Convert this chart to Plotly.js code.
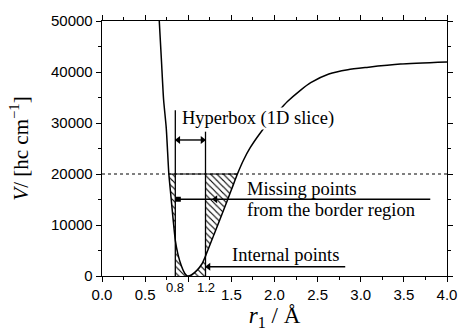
<!DOCTYPE html>
<html>
<head>
<meta charset="utf-8">
<script src="https://cdn.plot.ly/plotly-3.0.1.min.js"></script>
<style>html,body{margin:0;padding:0;background:#fff;}#chart{width:460px;height:331px;}</style>
</head>
<body>
<div id="chart"></div>
<script>
// Potential curve V(r1)
const r1 = [0.664, 0.69, 0.714, 0.745, 0.775, 0.80, 0.825, 0.85, 0.88, 0.92, 0.96, 0.99, 1.04, 1.10, 1.16, 1.20, 1.30, 1.40, 1.50, 1.57, 1.64, 1.72, 1.82, 1.92, 2.03, 2.15, 2.30, 2.42, 2.63, 2.85, 3.07, 3.46, 4.00];
const V  = [50000, 42000, 34600, 29000, 20000, 15500, 11000, 7000, 4300, 2000, 500, 0, 250, 1100, 2400, 3900, 8200, 12500, 16900, 20000, 22700, 25200, 27700, 29900, 32000, 34200, 36400, 37900, 39600, 40450, 40900, 41550, 41950];

// Hyperbox and energy threshold
const boxLo = 0.85, boxHi = 1.2;
const Vmax = 20000;
const boxLineTopLo = 32500, boxLineTopHi = 28300;
const arrowBoxV = 26670;
const missingV = 15050, missingTail = 3.806, missingHead2 = 1.28;
const internalV = 1800, internalTail = 2.82;

const xTickVals = [0, 0.5, 1, 1.5, 2, 2.5, 3, 3.5, 4];
const xTickText = ['0.0', '0.5', '', '1.5', '2.0', '2.5', '3.0', '3.5', '4.0'];
const yTickVals = [0, 10000, 20000, 30000, 40000, 50000];
const yTickText = ['0', '10000', '20000', '30000', '40000', '50000'];

const iMin = V.indexOf(Math.min(...V));
function interpR(v, a, b) {
  for (let i = a; i < b; i++) {
    const v0 = V[i], v1 = V[i+1];
    if ((v - v0) * (v - v1) <= 0 && v0 !== v1) {
      return r1[i] + (v - v0) / (v1 - v0) * (r1[i+1] - r1[i]);
    }
  }
  return null;
}
function interpV(r) {
  for (let i = 0; i < r1.length - 1; i++) {
    if (r >= r1[i] && r <= r1[i+1]) return V[i] + (r - r1[i]) / (r1[i+1] - r1[i]) * (V[i+1] - V[i]);
  }
  return null;
}
const rL20 = interpR(Vmax, 0, iMin);
const rR20 = interpR(Vmax, iMin, r1.length - 1);
const VboxLo = interpV(boxLo), VboxHi = interpV(boxHi);

function poly(pts) { return {x: pts.map(p => p[0]), y: pts.map(p => p[1])}; }
let pl = [[rL20, Vmax]];
r1.forEach((r, i) => { if (r > rL20 && r < boxLo && i < iMin) pl.push([r, V[i]]); });
pl.push([boxLo, VboxLo], [boxLo, Vmax], [rL20, Vmax]);
let pr = [[boxHi, VboxHi]];
r1.forEach((r, i) => { if (r > boxHi && r < rR20) pr.push([r, V[i]]); });
pr.push([rR20, Vmax], [boxHi, Vmax], [boxHi, VboxHi]);
let pbl = [[boxLo, 0], [boxLo, VboxLo]];
r1.forEach((r, i) => { if (r > boxLo && i <= iMin) pbl.push([r, V[i]]); });
pbl.push([boxLo, 0]);
let pbr = [[r1[iMin], 0]];
r1.forEach((r, i) => { if (i > iMin && r < boxHi) pbr.push([r, V[i]]); });
pbr.push([boxHi, VboxHi], [boxHi, 0], [r1[iMin], 0]);

const hatch = {shape: '\\', size: 4.5, solidity: 0.25, fgcolor: '#000', bgcolor: 'rgba(0,0,0,0)'};
function hatchTrace(p) {
  const q = poly(p);
  return {x: q.x, y: q.y, type: 'scatter', mode: 'lines', fill: 'toself', fillcolor: 'rgba(0,0,0,0)',
          fillpattern: hatch, line: {width: 0, color: 'rgba(0,0,0,0)'}, hoverinfo: 'skip', showlegend: false};
}
function seg(xs, ys, w, dash) {
  return {x: xs, y: ys, type: 'scatter', mode: 'lines', line: {color: '#000', width: w, dash: dash || 'solid'}, showlegend: false, hoverinfo: 'skip'};
}

const traces = [
  hatchTrace(pl), hatchTrace(pr), hatchTrace(pbl), hatchTrace(pbr),
  seg([0, 4], [Vmax, Vmax], 1, 'dot'),
  seg([rL20, rR20], [Vmax, Vmax], 1.1),
  seg([boxLo, boxLo], [0, boxLineTopLo], 1.3),
  seg([boxHi, boxHi], [0, boxLineTopHi], 1.3),
  seg([boxLo, boxHi], [arrowBoxV, arrowBoxV], 1.4),
  seg([boxLo, missingTail], [missingV, missingV], 1.4),
  seg([boxHi, internalTail], [internalV, internalV], 1.4),
  {x: [boxLo + 0.035, missingHead2 + 0.035, boxHi + 0.035], y: [arrowBoxV, missingV, internalV], type: 'scatter', mode: 'markers',
   marker: {symbol: 'triangle-left', size: 7, color: '#000', line: {width: 0}}, showlegend: false, hoverinfo: 'skip'},
  {x: [boxLo + 0.035], y: [missingV], type: 'scatter', mode: 'markers',
   marker: {symbol: 'square', size: 5, color: '#000', line: {width: 0}}, showlegend: false, hoverinfo: 'skip'},
  {x: [boxHi - 0.035], y: [arrowBoxV], type: 'scatter', mode: 'markers',
   marker: {symbol: 'triangle-right', size: 7, color: '#000', line: {width: 0}}, showlegend: false, hoverinfo: 'skip'},
  {x: r1, y: V, type: 'scatter', mode: 'lines', line: {color: '#000', width: 1.5, shape: 'spline', smoothing: 0.6}, showlegend: false}
];

const serif = 'Liberation Serif, Times New Roman, serif';
const sans = 'Liberation Sans, Arial, sans-serif';

const layout = {
  width: 460, height: 331,
  margin: {l: 102, r: 13, t: 21, b: 55},
  paper_bgcolor: '#fff', plot_bgcolor: '#fff',
  showlegend: false,
  xaxis: {
    range: [0, 4], tickmode: 'array', tickvals: xTickVals, ticktext: xTickText,
    ticks: 'outside', ticklen: 5, tickwidth: 1, tickcolor: '#000',
    minor: {dtick: 0.25, ticks: 'outside', ticklen: 3, tickcolor: '#000'},
    showline: true, linecolor: '#000', linewidth: 1.3, mirror: 'ticks',
    showgrid: false, zeroline: false,
    tickfont: {family: sans, size: 15, color: '#000'},
    title: {text: '<i>r</i><sub>1</sub> / Å', font: {family: serif, size: 23, color: '#000'}, standoff: 4}
  },
  yaxis: {
    range: [0, 50000], tickmode: 'array', tickvals: yTickVals, ticktext: yTickText,
    ticks: 'outside', ticklen: 5, tickwidth: 1, tickcolor: '#000',
    minor: {dtick: 5000, ticks: 'outside', ticklen: 3, tickcolor: '#000'},
    showline: true, linecolor: '#000', linewidth: 1.3, mirror: 'ticks',
    showgrid: false, zeroline: false,
    tickfont: {family: sans, size: 15, color: '#000'},
    title: {text: '<i>V</i>/ [hc cm<sup>−1</sup>]', font: {family: serif, size: 21, color: '#000'}, standoff: 16}
  },
  annotations: [
    {xref: 'x', yref: 'y', x: 1.806, y: 30980, text: 'Hyperbox (1D slice)', showarrow: false, bgcolor: '#fff',
     font: {family: serif, size: 18.5, color: '#000'}, xanchor: 'center', yanchor: 'middle', borderpad: 0},
    {xref: 'x', yref: 'y', x: 1.662, y: 17060, text: 'Missing points', showarrow: false,
     font: {family: serif, size: 18.5, color: '#000'}, xanchor: 'left', yanchor: 'middle'},
    {xref: 'x', yref: 'y', x: 1.662, y: 12940, text: 'from the border region', showarrow: false,
     font: {family: serif, size: 18.5, color: '#000'}, xanchor: 'left', yanchor: 'middle'},
    {xref: 'x', yref: 'y', x: 1.488, y: 4120, text: 'Internal points', showarrow: false,
     font: {family: serif, size: 18.5, color: '#000'}, xanchor: 'left', yanchor: 'middle'},
    {xref: 'x', yref: 'paper', x: boxLo, y: -0.045, text: '0.8', showarrow: false,
     font: {family: sans, size: 13, color: '#000'}, xanchor: 'center', yanchor: 'middle'},
    {xref: 'x', yref: 'paper', x: boxHi, y: -0.045, text: '1.2', showarrow: false,
     font: {family: sans, size: 13, color: '#000'}, xanchor: 'center', yanchor: 'middle'}
  ]
};

Plotly.newPlot('chart', traces, layout, {staticPlot: true, displayModeBar: false});
</script>
</body>
</html>
